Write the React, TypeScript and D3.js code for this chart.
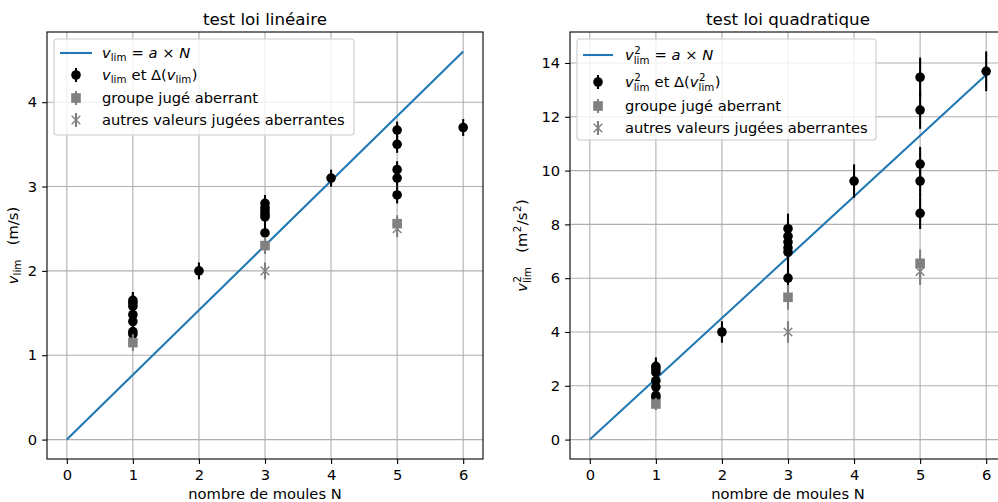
import React, { useEffect, useRef } from 'react';
import * as d3 from 'd3';

// nombre de moules (ticks en x)
const moules = [0, 1, 2, 3, 4, 5, 6];

// mesures retenues : N et v_lim (m/s)
const mesuresN = [1, 1, 1, 1, 1, 1, 1, 2, 3, 3, 3, 3, 3, 3, 4, 5, 5, 5, 5, 5, 6];
const mesuresV = [1.65, 1.62, 1.58, 1.48, 1.4, 1.28, 1.25, 2.0, 2.8, 2.75, 2.71, 2.67, 2.64, 2.45, 3.1, 3.67, 3.5, 3.2, 3.1, 2.9, 3.7];

// groupe jugé aberrant
const groupeN = [1, 3, 5];
const groupeV = [1.15, 2.3, 2.56];

// autres valeurs jugées aberrantes
const autresN = [3, 5];
const autresV = [2.0, 2.5];

const deltaV = 0.1;
const aLin = 0.767;
const aQuad = 2.26;

const yTicksLin = [0, 1, 2, 3, 4];
const yTicksQuad = [0, 2, 4, 6, 8, 10, 12, 14];

const FONT = 'DejaVu Sans';
const FS = 14.7;
const GRAY = '#808080';
const BLUE = '#1f77b4';

type Seg = { t?: string; it?: boolean; sup?: string; sub?: string };

// petit rendu "mathtext" : morceaux de texte posés les uns après les autres
function mathText(parent: any, segs: Seg[], fs: number) {
  const g = parent.append('g');
  let cx = 0;
  segs.forEach((s) => {
    if (s.t !== undefined) {
      const t = g.append('text')
        .attr('x', cx).attr('y', 0)
        .attr('font-size', fs)
        .attr('font-style', s.it ? 'italic' : 'normal')
        .style('white-space', 'pre')
        .text(s.t);
      cx += (t.node() as SVGTextElement).getComputedTextLength();
    } else {
      let w = 0;
      if (s.sup) {
        const t = g.append('text').attr('x', cx + 0.5).attr('y', -0.42 * fs)
          .attr('font-size', 0.7 * fs).text(s.sup);
        w = Math.max(w, (t.node() as SVGTextElement).getComputedTextLength() + 0.5);
      }
      if (s.sub) {
        const t = g.append('text').attr('x', cx).attr('y', (s.sup ? 0.3 : 0.22) * fs)
          .attr('font-size', 0.7 * fs).text(s.sub);
        w = Math.max(w, (t.node() as SVGTextElement).getComputedTextLength());
      }
      cx += w + 0.5;
    }
  });
  return { g, width: cx };
}

type Panel = {
  title: string;
  left: number;
  f: (v: number) => number;
  err: (v: number) => number;
  a: number;
  yTicks: number[];
  ylabel: Seg[];
  ylabelX: number;
  legend: Seg[][];
  legendBox: [number, number, number, number];
  legendRows: number[];
  legendHandleX: [number, number];
  legendTextX: number;
};

const vl: Seg[] = [{ t: 'v', it: true }, { sub: 'lim' }];
const v2l: Seg[] = [{ t: 'v', it: true }, { sup: '2', sub: 'lim' }];

const panels: Panel[] = [
  {
    title: 'test loi linéaire',
    left: 47,
    f: (v) => v,
    err: () => deltaV,
    a: aLin,
    yTicks: yTicksLin,
    ylabel: [...vl, { t: '   (m/s)' }],
    ylabelX: 18,
    legend: [
      [...vl, { t: ' = ' }, { t: 'a', it: true }, { t: ' × ' }, { t: 'N', it: true }],
      [...vl, { t: ' et Δ(' }, ...vl, { t: ')' }],
      [{ t: 'groupe jugé aberrant' }],
      [{ t: 'autres valeurs jugées aberrantes' }],
    ],
    legendBox: [54, 39, 300, 96],
    legendRows: [53, 75, 98, 120],
    legendHandleX: [60, 92],
    legendTextX: 102,
  },
  {
    title: 'test loi quadratique',
    left: 570,
    f: (v) => v * v,
    err: (v) => 2 * v * deltaV,
    a: aQuad,
    yTicks: yTicksQuad,
    ylabel: [...v2l, { t: '   (m' }, { sup: '2' }, { t: '/s' }, { sup: '2' }, { t: ')' }],
    ylabelX: 527,
    legend: [
      [...v2l, { t: ' = ' }, { t: 'a', it: true }, { t: ' × ' }, { t: 'N', it: true }],
      [...v2l, { t: ' et Δ(' }, ...v2l, { t: ')' }],
      [{ t: 'groupe jugé aberrant' }],
      [{ t: 'autres valeurs jugées aberrantes' }],
    ],
    legendBox: [577, 39, 299, 101],
    legendRows: [55, 82, 106, 128],
    legendHandleX: [583, 613],
    legendTextX: 625,
  },
];

function drawPanel(svg: any, p: Panel) {
  const top = 32;
  const bottom = 459;
  const width = 436;

  const pts = mesuresN.map((n, i) => ({ n, y: p.f(mesuresV[i]), e: p.err(mesuresV[i]) }));
  const grp = groupeN.map((n, i) => ({ n, y: p.f(groupeV[i]), e: p.err(groupeV[i]) }));
  const aut = autresN.map((n, i) => ({ n, y: p.f(autresV[i]), e: p.err(autresV[i]) }));

  const yMax = d3.max([p.a * 6, ...pts.map((d) => d.y + d.e)]) as number;
  const yMin = 0;
  const pad = 0.05 * (yMax - yMin);

  const x = d3.scaleLinear().domain([-0.3, 6.3]).range([p.left, p.left + width]);
  const y = d3.scaleLinear().domain([yMin - pad, yMax + pad]).range([bottom, top]);

  const g = svg.append('g').attr('font-family', FONT);

  // grille
  g.append('g').selectAll('line.gx').data(moules).enter().append('line')
    .attr('x1', (d: number) => x(d)).attr('x2', (d: number) => x(d))
    .attr('y1', top).attr('y2', bottom)
    .attr('stroke', '#b0b0b0').attr('stroke-width', 1.1);
  g.append('g').selectAll('line.gy').data(p.yTicks).enter().append('line')
    .attr('x1', p.left).attr('x2', p.left + width)
    .attr('y1', (d: number) => y(d)).attr('y2', (d: number) => y(d))
    .attr('stroke', '#b0b0b0').attr('stroke-width', 1.1);

  // droite a × N
  g.append('path')
    .datum([0, 6])
    .attr('d', d3.line<number>().x((d) => x(d)).y((d) => y(p.a * d)))
    .attr('fill', 'none').attr('stroke', BLUE).attr('stroke-width', 2.08);

  // mesures + barres d'erreur
  const err = (sel: any, data: any[], color: string) => {
    sel.selectAll('line.e').data(data).enter().append('line')
      .attr('x1', (d: any) => x(d.n)).attr('x2', (d: any) => x(d.n))
      .attr('y1', (d: any) => y(d.y - d.e)).attr('y2', (d: any) => y(d.y + d.e))
      .attr('stroke', color).attr('stroke-width', 2.08);
  };
  const gm = g.append('g');
  err(gm, pts, 'black');
  gm.selectAll('circle').data(pts).enter().append('circle')
    .attr('cx', (d: any) => x(d.n)).attr('cy', (d: any) => y(d.y))
    .attr('r', 4.8).attr('fill', 'black');

  const gg = g.append('g');
  err(gg, grp, GRAY);
  gg.selectAll('rect').data(grp).enter().append('rect')
    .attr('x', (d: any) => x(d.n) - 4.8).attr('y', (d: any) => y(d.y) - 4.8)
    .attr('width', 9.6).attr('height', 9.6).attr('fill', GRAY);

  const ga = g.append('g');
  err(ga, aut, GRAY);
  const s = 4.3;
  aut.forEach((d) => {
    const cx = x(d.n), cy = y(d.y);
    ga.append('path')
      .attr('d', `M${cx - s},${cy - s}L${cx + s},${cy + s}M${cx - s},${cy + s}L${cx + s},${cy - s}`)
      .attr('stroke', GRAY).attr('stroke-width', 1.4);
  });

  // cadre
  g.append('rect')
    .attr('x', p.left).attr('y', top).attr('width', width).attr('height', bottom - top)
    .attr('fill', 'none').attr('stroke', 'black').attr('stroke-width', 1.1);

  // axes
  const ax = g.append('g').attr('transform', `translate(0,${bottom})`)
    .call(d3.axisBottom(x).tickValues(moules).tickSize(4.9).tickPadding(4.9).tickFormat(d3.format('d')));
  const ay = g.append('g').attr('transform', `translate(${p.left},0)`)
    .call(d3.axisLeft(y).tickValues(p.yTicks).tickSize(4.9).tickPadding(4.9).tickFormat(d3.format('d')));
  [ax, ay].forEach((a) => {
    a.select('.domain').remove();
    a.attr('font-family', FONT).attr('font-size', FS);
    a.selectAll('line').attr('stroke-width', 1.1);
  });
  ax.selectAll('text').attr('dy', null).attr('y', 21);

  // titre et libellés
  g.append('text')
    .attr('x', p.left + width / 2).attr('y', 25)
    .attr('text-anchor', 'middle').attr('font-size', 16.7)
    .text(p.title);
  g.append('text')
    .attr('x', p.left + width / 2).attr('y', 499)
    .attr('text-anchor', 'middle').attr('font-size', FS)
    .text('nombre de moules N');

  const yl = mathText(g, p.ylabel, FS);
  yl.g.attr('transform', `translate(${p.ylabelX},${(top + bottom) / 2}) rotate(-90) translate(${-yl.width / 2},0)`);

  // légende
  const [bx, by, bw, bh] = p.legendBox;
  const lg = g.append('g');
  lg.append('rect')
    .attr('x', bx).attr('y', by).attr('width', bw).attr('height', bh).attr('rx', 3)
    .attr('fill', 'white').attr('fill-opacity', 0.8)
    .attr('stroke', '#cccccc').attr('stroke-width', 1.1);
  const [h0, h1] = p.legendHandleX;
  const hx = (h0 + h1) / 2;
  const r = p.legendRows;
  lg.append('line').attr('x1', h0).attr('x2', h1).attr('y1', r[0]).attr('y2', r[0])
    .attr('stroke', BLUE).attr('stroke-width', 2.08);
  lg.append('line').attr('x1', hx).attr('x2', hx).attr('y1', r[1] - 7).attr('y2', r[1] + 7)
    .attr('stroke', 'black').attr('stroke-width', 2.08);
  lg.append('circle').attr('cx', hx).attr('cy', r[1]).attr('r', 4.8).attr('fill', 'black');
  lg.append('line').attr('x1', hx).attr('x2', hx).attr('y1', r[2] - 7).attr('y2', r[2] + 7)
    .attr('stroke', GRAY).attr('stroke-width', 2.08);
  lg.append('rect').attr('x', hx - 4.8).attr('y', r[2] - 4.8).attr('width', 9.6).attr('height', 9.6).attr('fill', GRAY);
  lg.append('line').attr('x1', hx).attr('x2', hx).attr('y1', r[3] - 7).attr('y2', r[3] + 7)
    .attr('stroke', GRAY).attr('stroke-width', 2.08);
  lg.append('path')
    .attr('d', `M${hx - s},${r[3] - s}L${hx + s},${r[3] + s}M${hx - s},${r[3] + s}L${hx + s},${r[3] - s}`)
    .attr('stroke', GRAY).attr('stroke-width', 1.4);
  p.legend.forEach((segs, i) => {
    const m = mathText(lg, segs, FS);
    m.g.attr('transform', `translate(${p.legendTextX},${r[i] + 5})`);
  });
}

export default function App() {
  const ref = useRef<SVGSVGElement>(null);

  useEffect(() => {
    const svg = d3.select(ref.current);
    svg.selectAll('*').remove();
    panels.forEach((p) => drawPanel(svg, p));
  }, []);

  return (
    <svg
      ref={ref}
      width={998}
      height={502}
      style={{ position: 'absolute', left: 0, top: 0, background: 'white' }}
    />
  );
}
